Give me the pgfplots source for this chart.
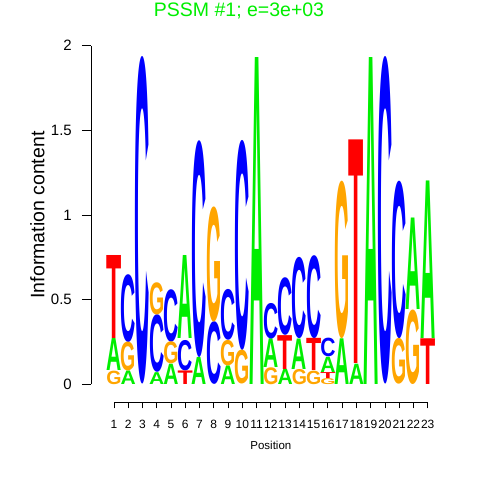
\documentclass[border=0pt]{standalone}
\usepackage{fontspec}
\setmainfont{Liberation Sans}
\usepackage{graphicx}
\usepackage{pgfplots}
\usepackage{pgfplotstable}
\pgfplotsset{compat=1.18}
\definecolor{cA}{RGB}{0,238,0}
\definecolor{cC}{RGB}{0,0,255}
\definecolor{cG}{RGB}{255,165,0}
\definecolor{cT}{RGB}{255,0,0}

\pgfplotstableread{
x y h
1 0.08 0.19
2 0 0.08
4 0 0.07
5 0 0.12
6 0.27 0.49
7 0 0.16
9 0 0.11
11 0 1.93
12 0.10 0.17
13 0 0.09
14 0.09 0.18
16 0.07 0.09
17 0 0.27
18 0 0.12
19 0 1.93
22 0.44 0.54
23 0.27 0.93
}\tabA
\pgfplotstableread{
x y h
2 0.25 0.40
3 0 1.93
4 0.07 0.34
5 0.25 0.31
6 0.08 0.18
7 0.16 1.28
8 0 0.37
9 0.26 0.30
10 0.20 1.24
12 0.27 0.21
13 0.29 0.34
14 0.27 0.48
15 0.27 0.49
16 0.16 0.11
20 0 1.93
21 0.27 0.93
}\tabC
\pgfplotstableread{
x y h
1 0 0.08
2 0.08 0.17
4 0.41 0.19
5 0.12 0.13
8 0.37 0.68
9 0.11 0.15
10 0 0.20
12 0 0.10
14 0 0.09
15 0 0.08
16 0 0.035
17 0.27 0.93
21 0 0.27
22 0 0.44
}\tabG
\pgfplotstableread{
x y h
1 0.27 0.49
6 0 0.08
13 0.09 0.20
15 0.08 0.19
16 0.035 0.035
18 0.12 1.32
23 0 0.27
}\tabT

\pgfplotsset{
  letter/.style n args={2}{draw=none, mark=none, forget plot,
    point meta=\thisrow{h},
    visualization depends on={\thisrow{h}*169.3 \as \hval},
    nodes near coords={\resizebox*{15.2bp}{\hval bp}{\bfseries #1}},
    every node near coord/.style={anchor=south, inner sep=0pt, outer sep=0pt, text=#2}},
}

\begin{document}
\begin{tikzpicture}
\path[use as bounding box] (0,0) rectangle (480bp,480bp);
% letters
\begin{axis}[at={(99.74bp,95.7bp)}, anchor=south west, scale only axis,
  width=342.24bp, height=338.6bp, xmin=0, xmax=24, ymin=0, ymax=2,
  hide axis, clip=false]
\addplot[letter={A}{cA}] table[x=x,y=y] {\tabA};
\addplot[letter={C}{cC}] table[x=x,y=y] {\tabC};
\addplot[letter={G}{cG}] table[x=x,y=y] {\tabG};
\addplot[letter={T}{cT}] table[x=x,y=y] {\tabT};
\end{axis}
% y axis
\begin{axis}[at={(91bp,95.7bp)}, anchor=south west, scale only axis,
  width=100bp, height=338.6bp, xmin=0, xmax=1, ymin=0, ymax=2,
  axis y line*=left, axis x line=none, xtick=\empty,
  axis line style={-, black, line width=0.8bp},
  ytick={0,0.5,1,1.5,2}, tick align=outside, major tick length=9bp,
  tick style={black, line width=0.8bp},
  /pgf/number format/assume math mode=true,
  yticklabel style={anchor=east, inner sep=0pt, xshift=-10bp, font=\fontsize{15bp}{18bp}\selectfont},
  ylabel={Information content},
  ylabel style={at={(axis description cs:-0.535,0.5)}, anchor=center, rotate=0, font=\fontsize{19.5bp}{23bp}\selectfont},
  ]
\end{axis}
% x axis + title
\begin{axis}[at={(114bp,78bp)}, anchor=south west, scale only axis,
  width=313.7bp, height=10bp, xmin=1, xmax=23, ymin=0, ymax=1,
  axis x line*=bottom, axis y line=none, ytick=\empty,
  axis line style={-, black, line width=0.8bp},
  xtick={1,...,23}, tick align=outside, major tick length=6.5bp,
  tick style={black, line width=0.8bp},
  /pgf/number format/assume math mode=true,
  xticklabel style={anchor=base, inner sep=0pt, yshift=-19.8bp, font=\fontsize{12bp}{14bp}\selectfont},
  xlabel={Position},
  xlabel style={at={(axis description cs:0.5,-4.8)}, anchor=base, font=\fontsize{11.5bp}{14bp}\selectfont},
  title={PSSM \#1; e=3e+03},
  title style={at={(axis description cs:0.3985,38.6)}, anchor=base, yshift=-6pt, inner sep=0pt, text=cA, font=\fontsize{19.5bp}{23bp}\selectfont},
  ]
\end{axis}
\end{tikzpicture}
\end{document}
